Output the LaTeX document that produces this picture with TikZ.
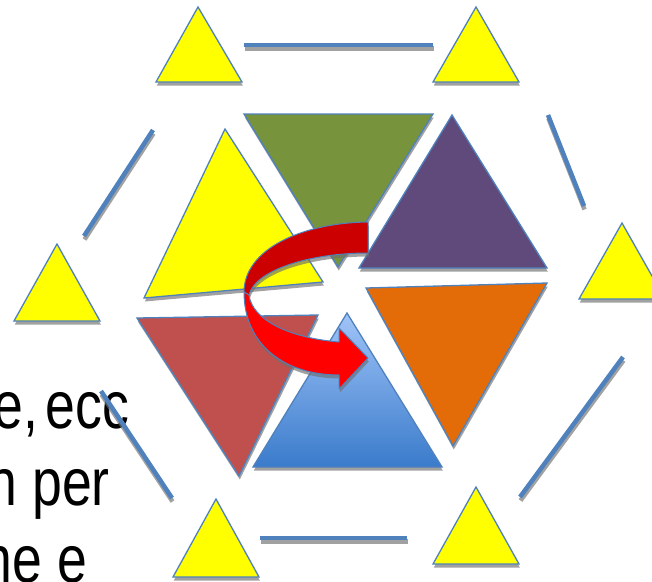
\documentclass[tikz,border=0pt]{standalone}
\usepackage{graphicx}
\usepackage{fontspec}
\setmainfont{Liberation Sans}
\definecolor{edge}{HTML}{4F81BD}
\definecolor{tyellow}{HTML}{FFFF00}
\definecolor{tgreen}{HTML}{77933C}
\definecolor{tpurple}{HTML}{604A7B}
\definecolor{tred}{HTML}{C0504D}
\definecolor{torange}{HTML}{E36C09}
\definecolor{tbluetop}{HTML}{A0C4F8}
\definecolor{tbluebot}{HTML}{3A7BCB}
\definecolor{adark}{HTML}{CC0000}
\definecolor{abright}{HTML}{FF0000}
\definecolor{shade}{HTML}{6F6F6F}
\begin{document}
\begin{tikzpicture}[x=1pt,y=-1pt,
  tri/.style={draw=edge, line width=1.3pt, line join=miter,
    preaction={fill=shade, opacity=0.65, transform canvas={shift={(0.8pt,-3.5pt)}}}},
  bar/.style={draw=edge, line width=4.5pt,
    preaction={draw=shade, line width=4.5pt, opacity=0.65, transform canvas={shift={(0.5pt,-3.5pt)}}}},
  arrowpart/.style={draw=edge, line width=1pt, line join=round,
    preaction={fill=shade, opacity=0.65, transform canvas={shift={(0.8pt,-3.5pt)}}}},
  txt/.style={font=\fontsize{67}{80}\selectfont, text=black, inner sep=0pt}]
\useasboundingbox (0,0) rectangle (652,581);
\clip (0,0) rectangle (652,581);

% partially visible text on the left
\node[txt, anchor=base east] (l1) at (129.6,428) {\scalebox{0.8}[1]{e, \hspace{-9pt}ecc}};
\node[txt, anchor=base east] (l2) at (110,505) {\scalebox{0.8}[1]{n per}};
\node[txt, anchor=base east] (l3) at (87.5,582) {\scalebox{0.8}[1]{ne e}};

% bars of the outer hexagon
\coordinate (b1a) at (244,45);  \coordinate (b1b) at (433,45);
\coordinate (b2a) at (260,538); \coordinate (b2b) at (407,538);
\coordinate (b3a) at (153,130); \coordinate (b3b) at (84,236);
\coordinate (b4a) at (101,391); \coordinate (b4b) at (172,498);
\coordinate (b5a) at (548,115); \coordinate (b5b) at (584,206);
\coordinate (b6a) at (623,357); \coordinate (b6b) at (520,497);
\draw[bar] (b1a) -- (b1b);
\draw[bar] (b2a) -- (b2b);
\draw[bar] (b3a) -- (b3b);
\draw[bar] (b4a) -- (b4b);
\draw[bar] (b5a) -- (b5b);
\draw[bar] (b6a) -- (b6b);

% small yellow triangles
\draw[tri, fill=tyellow] (198,7) -- (242,82) -- (156,82) -- cycle;
\draw[tri, fill=tyellow] (476,7) -- (519,82) -- (433,82) -- cycle;
\draw[tri, fill=tyellow] (57,244) -- (100,321) -- (14,321) -- cycle;
\draw[tri, fill=tyellow] (622,223) -- (665,299) -- (579,299) -- cycle;
\draw[tri, fill=tyellow] (216,499) -- (259,577) -- (173,577) -- cycle;
\draw[tri, fill=tyellow] (476,487) -- (519,564) -- (433,564) -- cycle;

% big central triangles
\draw[tri, fill=tgreen] (244,114) -- (433,114) -- (338,267) -- cycle;
\draw[tri, fill=tyellow] (225,129) -- (323,282) -- (144,298) -- cycle;
\draw[tri, fill=tpurple] (452,115) -- (547,268) -- (359,268) -- cycle;
\draw[tri, fill=tred] (137,318) -- (318,315) -- (239,476) -- cycle;
\draw[tri, fill=torange] (366,288) -- (547,283) -- (453,446) -- cycle;
\draw[tri, top color=tbluetop, bottom color=tbluebot] (347,313) -- (442,467) -- (253,467) -- cycle;

% curved arrow
\draw[arrowpart, fill=adark] (368,222) .. controls (300,223) and (244,250) .. (244,292)
  -- (249,295) .. controls (255,270) and (310,253) .. (368,253) -- cycle;
\draw[arrowpart, fill=abright] (244,292) .. controls (244,345) and (285,375) .. (339,375)
  -- (339,389) -- (368,358) -- (339,328) -- (339,342)
  .. controls (290,338) and (252,320) .. (249,295) -- cycle;
\end{tikzpicture}
\end{document}
